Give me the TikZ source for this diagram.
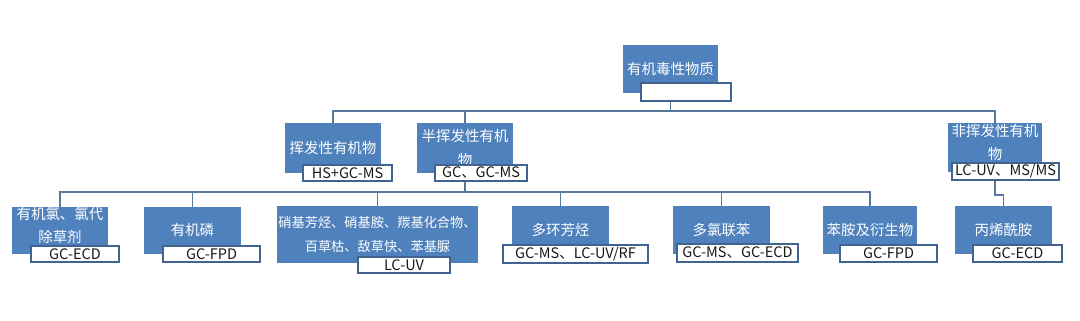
\documentclass[tikz,border=0pt]{standalone}
\usepackage{fontspec}
\newfontfamily\cjk{Noto Sans CJK SC}
\usepackage{tikz}
\usetikzlibrary{positioning}
\definecolor{ToxBlue}{HTML}{4F81BD}
\definecolor{ToxEdge}{HTML}{41638F}
\definecolor{ToxLine}{HTML}{56789F}

\begin{document}
\begin{tikzpicture}[x=0.025cm, y=0.025cm,
      blk/.style={rectangle, fill=ToxBlue, text=white, inner sep=0pt,
                  minimum width=2.4cm, minimum height=1.2cm, align=center,
                  font=\cjk\fontsize{10.3}{16.5}\selectfont},
      tag/.style={rectangle, fill=white, draw=ToxEdge, line width=1.1pt,
                  inner sep=0pt, minimum height=0.42cm, text=black!90,
                  font=\cjk\fontsize{10.3}{12}\selectfont},
      link/.style={draw=ToxLine, line width=1.2pt}
    ]
    \useasboundingbox (0,0) rectangle (1080,-321);

    % Boxes
    \node[blk, minimum width=2.375cm] (top) at (670.5,-69) {有机毒性物质};
    \node[blk, minimum height=1.25cm] (vol)  at (333,-148) {挥发性有机物};
    \node[blk, minimum height=1.25cm] (semi) at (465,-148) {半挥发性有机\\物};
    \node[blk, minimum width=2.35cm, minimum height=1.225cm, text depth=0.27cm] (non)
        at (995,-147.5) {非挥发性有机\\物};

    \node[blk, minimum height=1.175cm, text depth=0.27cm] (c1) at (60,-230.5)
        {有机氯、氯代\\除草剂};
    \node[blk, minimum height=1.175cm] (c2) at (192.5,-230.5) {有机磷};
    \node[blk, minimum width=5.025cm, minimum height=1.425cm,
          font=\cjk\fontsize{9.4}{16.5}\selectfont] (c3) at (377.5,-234.5)
        {硝基芳烃、硝基胺、羰基化合物、\\百草枯、敌草快、苯基脲};
    \node[blk] (c4) at (560.5,-230) {多环芳烃};
    \node[blk] (c5) at (721.5,-230) {多氯联苯};
    \node[blk, minimum width=2.35cm] (c6) at (870,-230) {苯胺及衍生物};
    \node[blk] (c7) at (1003.5,-230) {丙烯酰胺};

    % Connectors
    \foreach \n in {vol, semi, non}
      \draw[link] (top.south) -- ++(0,-18) -| (\n.north);
    \foreach \n in {c1, c2, c3, c4, c5, c6}
      \draw[link] (semi.south) -- ++(0,-19) -| (\n.north);
    \draw[link] (non.south) -- ++(0,-23) -| (c7.north);

    % Methods
    \node[tag, minimum width=2.25cm, minimum height=0.45cm] (topl) at (686,-92) {};
    \node[tag, minimum width=2.225cm, minimum height=0.4cm] (voll) at (347.5,-173) {HS+GC-MS};
    \node[tag, minimum width=2.3cm, minimum height=0.4cm] (semil) at (481,-173) {GC、GC-MS};
    \node[tag, minimum width=2.675cm] (nonl) at (1005.5,-171.5) {LC-UV、MS/MS};

    \node[tag, minimum width=2.2cm, minimum height=0.4cm] (c1l) at (75,-254) {GC-ECD};
    \node[tag, minimum width=2.425cm, minimum height=0.4cm] (c2l) at (211.5,-254) {GC-FPD};
    \node[tag, minimum width=2.3cm, minimum height=0.4cm] (c3l) at (404,-265) {LC-UV};
    \node[tag, minimum width=3.625cm, minimum height=0.45cm] (c4l) at (575.5,-254) {GC-MS、LC-UV/RF};
    \node[tag, minimum width=3.025cm, minimum height=0.46cm] (c5l) at (737.5,-253) {GC-MS、GC-ECD};
    \node[tag, minimum width=2.425cm] (c6l) at (888.5,-253.5) {GC-FPD};
    \node[tag, minimum width=2.225cm] (c7l) at (1017.5,-253.5) {GC-ECD};
  \end{tikzpicture}
\end{document}
